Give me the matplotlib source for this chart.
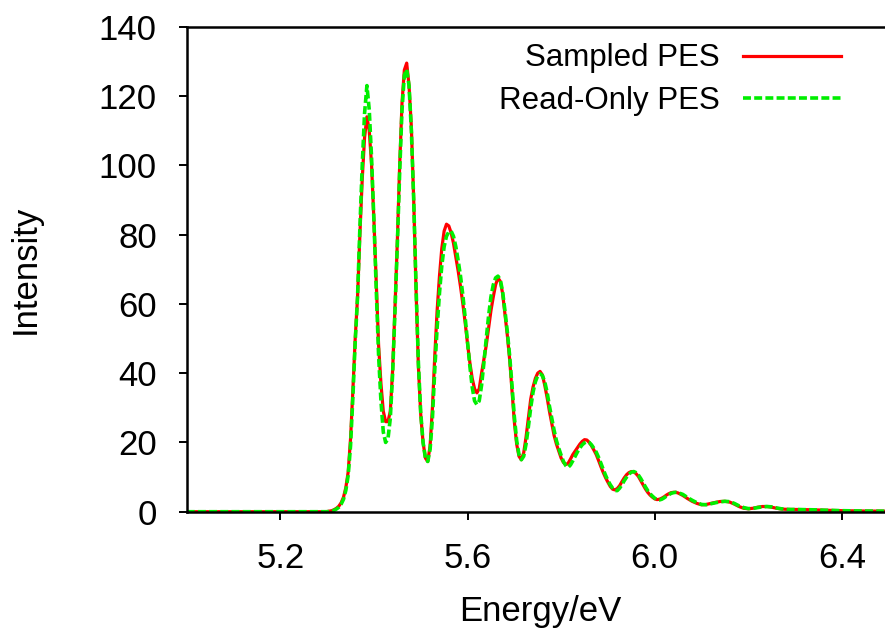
import matplotlib
matplotlib.use('Agg')
import matplotlib.pyplot as plt

# Energia (eV) e intensidade
energia_sampled = [5.000, 5.100, 5.200, 5.290, 5.300, 5.310, 5.315, 5.320, 5.325, 5.330,
                   5.335, 5.340, 5.345, 5.350, 5.355, 5.360, 5.365, 5.370, 5.375, 5.380,
                   5.385, 5.390, 5.395, 5.400, 5.405, 5.410, 5.415, 5.420, 5.425, 5.430,
                   5.435, 5.440, 5.445, 5.450, 5.455, 5.460, 5.465, 5.470, 5.475, 5.480,
                   5.485, 5.490, 5.495, 5.500, 5.505, 5.510, 5.515, 5.520, 5.525, 5.530,
                   5.535, 5.540, 5.545, 5.550, 5.555, 5.560, 5.565, 5.570, 5.575, 5.580,
                   5.585, 5.590, 5.595, 5.600, 5.605, 5.610, 5.615, 5.620, 5.625, 5.630,
                   5.635, 5.640, 5.645, 5.650, 5.655, 5.660, 5.665, 5.670, 5.675, 5.680,
                   5.685, 5.690, 5.695, 5.700, 5.705, 5.710, 5.715, 5.720, 5.725, 5.730,
                   5.735, 5.740, 5.745, 5.750, 5.755, 5.760, 5.765, 5.770, 5.775, 5.780,
                   5.785, 5.790, 5.795, 5.800, 5.805, 5.810, 5.815, 5.820, 5.825, 5.830,
                   5.835, 5.840, 5.845, 5.850, 5.855, 5.860, 5.865, 5.870, 5.875, 5.880,
                   5.885, 5.890, 5.895, 5.900, 5.905, 5.910, 5.915, 5.920, 5.925, 5.930,
                   5.935, 5.940, 5.945, 5.950, 5.955, 5.960, 5.965, 5.970, 5.975, 5.980,
                   5.985, 5.990, 5.995, 6.000, 6.005, 6.010, 6.015, 6.020, 6.025, 6.030,
                   6.035, 6.040, 6.045, 6.050, 6.060, 6.070, 6.080, 6.090, 6.100, 6.110,
                   6.120, 6.130, 6.140, 6.150, 6.160, 6.170, 6.180, 6.190, 6.200, 6.210,
                   6.220, 6.230, 6.240, 6.250, 6.260, 6.270, 6.280, 6.290, 6.300, 6.320,
                   6.340, 6.360, 6.400, 6.450, 6.500]
intensidade_sampled = [0.0, 0.0, 0.0, 0.0, 0.05, 0.3, 0.6, 1.0, 1.6, 2.6,
                       4.2, 7.0, 11.5, 21.0, 35.0, 50.0, 62.0, 80.0, 96.0, 108.0,
                       114.0, 110.0, 100.0, 84.0, 66.0, 48.0, 37.0, 29.0, 26.0, 26.0,
                       29.0, 41.0, 59.0, 78.0, 100.0, 118.0, 127.5, 129.5, 123.0, 111.0,
                       90.0, 64.0, 42.0, 28.0, 20.0, 15.5, 14.5, 19.0, 30.0, 45.0,
                       58.0, 68.0, 76.0, 81.0, 83.0, 82.5, 80.5, 77.5, 73.5, 69.5,
                       65.0, 60.0, 54.5, 48.5, 43.0, 38.5, 35.5, 34.3, 35.5, 40.0,
                       44.0, 48.0, 53.0, 58.0, 62.0, 65.5, 67.5, 66.5, 63.0, 57.0,
                       51.0, 44.0, 35.0, 26.0, 19.5, 16.0, 15.0, 17.0, 21.5, 27.0,
                       32.5, 36.0, 38.5, 40.0, 40.5, 39.5, 36.5, 33.0, 29.0, 25.5,
                       22.0, 19.5, 17.5, 15.5, 14.2, 13.6, 14.0, 15.2, 16.5, 17.5,
                       18.5, 19.5, 20.3, 20.8, 20.7, 20.0, 19.0, 17.8, 16.5, 14.8,
                       13.0, 11.3, 9.8, 8.5, 7.3, 6.5, 6.3, 6.7, 7.5, 8.7,
                       9.8, 10.7, 11.3, 11.6, 11.5, 11.0, 10.2, 9.0, 7.8, 6.6,
                       5.6, 4.8, 4.2, 3.7, 3.5, 3.6, 3.9, 4.3, 4.8, 5.2,
                       5.5, 5.6, 5.6, 5.4, 4.7, 3.8, 3.0, 2.4, 2.0, 2.1,
                       2.4, 2.7, 2.95, 3.0, 2.8, 2.2, 1.5, 1.0, 0.85, 1.0,
                       1.3, 1.5, 1.5, 1.3, 1.0, 0.8, 0.7, 0.65, 0.65, 0.6,
                       0.55, 0.45, 0.3, 0.2, 0.15]

energia_readonly = [5.000, 5.100, 5.200, 5.290, 5.300, 5.310, 5.315, 5.320, 5.325, 5.330,
                    5.335, 5.340, 5.345, 5.350, 5.355, 5.360, 5.365, 5.370, 5.375, 5.380,
                    5.385, 5.390, 5.395, 5.400, 5.405, 5.410, 5.415, 5.420, 5.425, 5.430,
                    5.435, 5.440, 5.445, 5.450, 5.455, 5.460, 5.465, 5.470, 5.475, 5.480,
                    5.485, 5.490, 5.495, 5.500, 5.505, 5.510, 5.515, 5.520, 5.525, 5.530,
                    5.535, 5.540, 5.545, 5.550, 5.555, 5.560, 5.565, 5.570, 5.575, 5.580,
                    5.585, 5.590, 5.595, 5.600, 5.605, 5.610, 5.615, 5.620, 5.625, 5.630,
                    5.635, 5.640, 5.645, 5.650, 5.655, 5.660, 5.665, 5.670, 5.675, 5.680,
                    5.685, 5.690, 5.695, 5.700, 5.705, 5.710, 5.715, 5.720, 5.725, 5.730,
                    5.735, 5.740, 5.745, 5.750, 5.755, 5.760, 5.765, 5.770, 5.775, 5.780,
                    5.785, 5.790, 5.795, 5.800, 5.805, 5.810, 5.815, 5.820, 5.825, 5.830,
                    5.835, 5.840, 5.845, 5.850, 5.855, 5.860, 5.865, 5.870, 5.875, 5.880,
                    5.885, 5.890, 5.895, 5.900, 5.905, 5.910, 5.915, 5.920, 5.925, 5.930,
                    5.935, 5.940, 5.945, 5.950, 5.955, 5.960, 5.965, 5.970, 5.975, 5.980,
                    5.985, 5.990, 5.995, 6.000, 6.005, 6.010, 6.015, 6.020, 6.025, 6.030,
                    6.035, 6.040, 6.045, 6.050, 6.060, 6.070, 6.080, 6.090, 6.100, 6.110,
                    6.120, 6.130, 6.140, 6.150, 6.160, 6.170, 6.180, 6.190, 6.200, 6.210,
                    6.220, 6.230, 6.240, 6.250, 6.260, 6.270, 6.280, 6.290, 6.300, 6.320,
                    6.340, 6.360, 6.400, 6.450, 6.500]
intensidade_readonly = [0.0, 0.0, 0.0, 0.0, 0.0, 0.2, 0.4, 0.8, 1.3, 2.2,
                        3.6, 6.2, 10.5, 19.0, 33.0, 49.0, 62.0, 82.0, 100.0, 115.0,
                        123.0, 116.0, 102.0, 84.0, 64.0, 45.0, 32.0, 23.0, 20.0, 21.0,
                        27.0, 40.0, 58.0, 77.0, 98.0, 116.0, 126.0, 127.7, 123.0, 110.0,
                        90.0, 65.0, 43.0, 28.5, 20.0, 15.5, 14.5, 18.0, 27.0, 41.0,
                        53.0, 63.0, 71.0, 76.5, 79.5, 80.8, 81.0, 79.5, 76.5, 72.5,
                        68.0, 62.5, 56.0, 49.0, 42.0, 36.0, 32.0, 30.9, 32.0, 36.5,
                        43.0, 50.0, 56.5, 62.0, 65.5, 67.5, 68.0, 67.0, 63.5, 58.0,
                        52.0, 45.0, 36.5, 27.5, 20.5, 16.5, 15.0, 16.0, 19.5, 24.5,
                        30.0, 34.5, 37.5, 39.3, 39.8, 39.3, 37.5, 34.5, 30.5, 27.0,
                        23.5, 20.5, 18.3, 16.3, 14.5, 13.3, 12.8, 13.5, 14.7, 16.0,
                        17.3, 18.4, 19.3, 19.9, 20.2, 20.0, 19.3, 18.3, 17.2, 15.7,
                        14.0, 12.2, 10.5, 9.0, 7.8, 6.8, 6.1, 6.1, 6.8, 7.8,
                        9.0, 10.0, 10.9, 11.4, 11.6, 11.3, 10.6, 9.6, 8.4, 7.2,
                        6.1, 5.2, 4.5, 3.9, 3.5, 3.4, 3.6, 4.0, 4.5, 4.9,
                        5.3, 5.5, 5.6, 5.5, 5.0, 4.1, 3.3, 2.6, 2.1, 2.0,
                        2.3, 2.6, 2.85, 3.0, 2.9, 2.4, 1.7, 1.2, 0.9, 0.95,
                        1.2, 1.4, 1.5, 1.4, 1.1, 0.85, 0.7, 0.65, 0.65, 0.6,
                        0.55, 0.45, 0.3, 0.2, 0.15]

ticks_x = [5.2, 5.6, 6.0, 6.4]
ticks_y = [0, 20, 40, 60, 80, 100, 120, 140]

plt.rcParams['font.family'] = ['Liberation Sans', 'DejaVu Sans']

fig = plt.figure(figsize=(8.85, 6.33), dpi=100)
ax = fig.add_axes([0.211, 0.1916, 0.7932, 0.7662])

ax.plot(energia_sampled, intensidade_sampled, color='#ff0000', lw=2.3,
        label='Sampled PES')
ax.plot(energia_readonly, intensidade_readonly, color='#00ee00', lw=2.6,
        linestyle=(0, (2.2, 0.9)), dash_capstyle='butt', label='Read-Only PES')

ax.set_xlim(5.0, 6.5)
ax.set_ylim(0, 140)
ax.set_xticks(ticks_x)
ax.set_xticklabels([f'{t:.1f}' for t in ticks_x])
ax.set_yticks(ticks_y)

ax.spines['right'].set_visible(False)
for lado in ['left', 'bottom', 'top']:
    ax.spines[lado].set_linewidth(1.8)
ax.tick_params(direction='out', length=5.5, width=1.4, labelsize=25, pad=16)

ax.set_xlabel('Energy/eV', fontsize=25)
ax.set_ylabel('Intensity', fontsize=25)
ax.xaxis.set_label_coords(0.503, -0.171)
ax.yaxis.set_label_coords(-0.207, 0.5)

ax.legend(loc='upper right', bbox_to_anchor=(0.968, 1.017), frameon=False,
          markerfirst=False, fontsize=22.5, handlelength=3.14, labelspacing=0.4,
          handletextpad=0.75, borderaxespad=0.4)

fig.savefig('out.png', dpi=100)
plt.close()
